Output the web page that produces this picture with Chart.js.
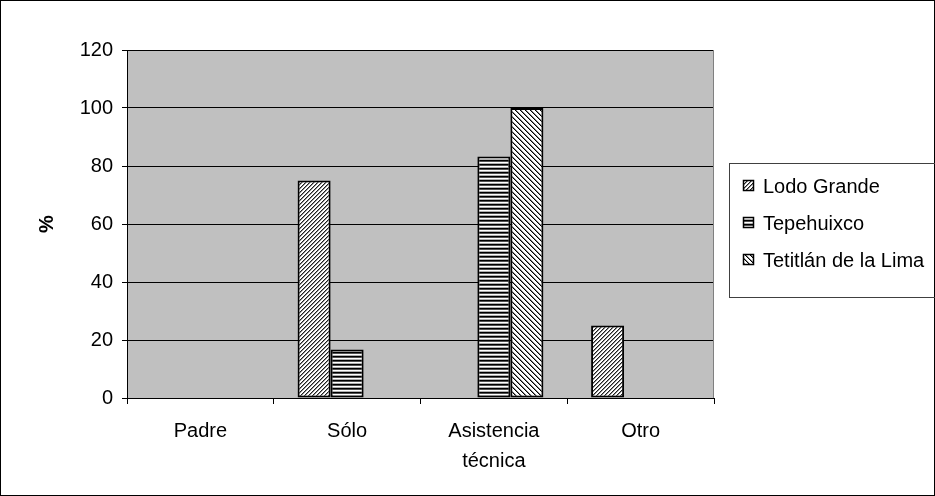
<!DOCTYPE html>
<html>
<head>
<meta charset="utf-8">
<script src="https://cdn.jsdelivr.net/npm/chart.js@4/dist/chart.umd.min.js"></script>
<style>
html,body{margin:0;padding:0;background:#fff;}
#wrap{width:935px;height:496px;position:relative;}
</style>
</head>
<body>
<div id="wrap"><canvas id="c" width="935" height="496"></canvas></div>
<script>
const categories = [["Padre"], ["Sólo"], ["Asistencia", "técnica"], ["Otro"]];
const seriesNames = ["Lodo Grande", "Tepehuixco", "Tetitlán de la Lima"];
const lodoGrande = [0, 75, 0, 25];
const tepehuixco = [0, 16.7, 83.3, 0];
const tetitlan = [0, 0, 100, 0];
const yTicks = [0, 20, 40, 60, 80, 100, 120];

const FONT = "'Liberation Sans', Arial, sans-serif";

function makePattern(kind) {
  const t = document.createElement('canvas');
  const g = t.getContext('2d');
  if (kind === 'fwd') {
    const n = 4; t.width = n; t.height = n;
    g.fillStyle = '#fff'; g.fillRect(0, 0, n, n);
    for (let y = 0; y < n; y++) {
      g.fillStyle = '#202020'; g.fillRect((n - 1 - y + n) % n, y, 1, 1);
      g.fillStyle = '#909090'; g.fillRect((n - y + n) % n, y, 1, 1);
    }
  } else if (kind === 'back') {
    const n = 5; t.width = n; t.height = n;
    g.fillStyle = '#fff'; g.fillRect(0, 0, n, n);
    for (let y = 0; y < n; y++) {
      g.fillStyle = '#000'; g.fillRect(y % n, y, 1, 1);
      g.fillStyle = '#808080'; g.fillRect((y + 1) % n, y, 1, 1);
    }
  } else {
    t.width = 1; t.height = 4;
    const rows = ['#000', '#505050', '#fff', '#b0b0b0'];
    rows.forEach((c, i) => { g.fillStyle = c; g.fillRect(0, i, 1, 1); });
  }
  return g.createPattern(t, 'repeat');
}

const patterns = [makePattern('fwd'), makePattern('horiz'), makePattern('back')];
const seriesData = [lodoGrande, tepehuixco, tetitlan];

const bgPlugin = {
  id: 'bg',
  beforeDraw(chart) {
    const { ctx, chartArea: a } = chart;
    ctx.save();
    ctx.fillStyle = '#fff';
    ctx.fillRect(0, 0, chart.width, chart.height);
    ctx.fillStyle = '#c0c0c0';
    ctx.fillRect(a.left, a.top, a.right - a.left, a.bottom - a.top);
    ctx.restore();
  },
  afterDraw(chart) {
    const { ctx, chartArea: a } = chart;
    ctx.save();
    ctx.strokeStyle = '#808080';
    ctx.lineWidth = 1;
    ctx.beginPath();
    ctx.moveTo(Math.round(a.right) - 0.5, a.top);
    ctx.lineTo(Math.round(a.right) - 0.5, a.bottom);
    ctx.stroke();
    ctx.strokeStyle = '#000';
    ctx.strokeRect(0.5, 0.5, chart.width - 1, chart.height - 1);
    const lx = 729, ly = 163, lw = 210, lh = 134;
    ctx.strokeStyle = '#404040';
    ctx.strokeRect(lx + 0.5, ly + 0.5, lw, lh);
    const rows = [186, 223, 260];
    ctx.font = '20px ' + FONT;
    ctx.textBaseline = 'middle';
    ctx.textAlign = 'left';
    chart.data.datasets.forEach((ds, i) => {
      const y = rows[i];
      ctx.fillStyle = ds.backgroundColor;
      ctx.fillRect(743, y - 6, 11, 11);
      ctx.strokeStyle = '#000';
      ctx.lineWidth = 1.5;
      ctx.strokeRect(743.5, y - 5.5, 10, 10);
      ctx.fillStyle = '#000';
      ctx.fillText(ds.label, 763, y + 1);
    });
    ctx.restore();
  }
};

new Chart(document.getElementById('c'), {
  type: 'bar',
  data: {
    labels: categories,
    datasets: seriesNames.map((name, i) => ({
      label: name,
      data: seriesData[i],
      backgroundColor: patterns[i],
      borderColor: '#000',
      borderWidth: 2,
      borderSkipped: false,
      categoryPercentage: 0.675,
      barPercentage: 1.0
    }))
  },
  options: {
    responsive: false,
    animation: false,
    devicePixelRatio: 1,
    layout: { padding: { left: 0, top: 50, right: 221, bottom: 0 } },
    plugins: { legend: { display: false }, tooltip: { enabled: false } },
    scales: {
      x: {
        offset: true,
        grid: { display: true, drawOnChartArea: false, drawTicks: true, tickLength: 6, color: '#000', offset: true },
        border: { display: true, color: '#000', width: 1 },
        ticks: { color: '#000', font: { family: FONT, size: 20, lineHeight: 1.5 }, padding: 12, maxRotation: 0, autoSkip: false },
        afterFit(scale) { scale.height = 98; }
      },
      y: {
        min: 0, max: 120,
        afterBuildTicks(scale) { scale.ticks = yTicks.map(v => ({ value: v })); },
        grid: { color: '#000', lineWidth: 1, drawTicks: true, tickLength: 5 },
        border: { display: true, color: '#000', width: 1 },
        ticks: { color: '#000', font: { family: FONT, size: 20 }, padding: 9 },
        title: { display: true, text: '%', color: '#000', font: { family: FONT, size: 20, weight: 'bold' }, padding: { top: 35, bottom: 0 } },
        afterFit(scale) { scale.width = 127; }
      }
    }
  },
  plugins: [bgPlugin]
});
</script>
</body>
</html>
